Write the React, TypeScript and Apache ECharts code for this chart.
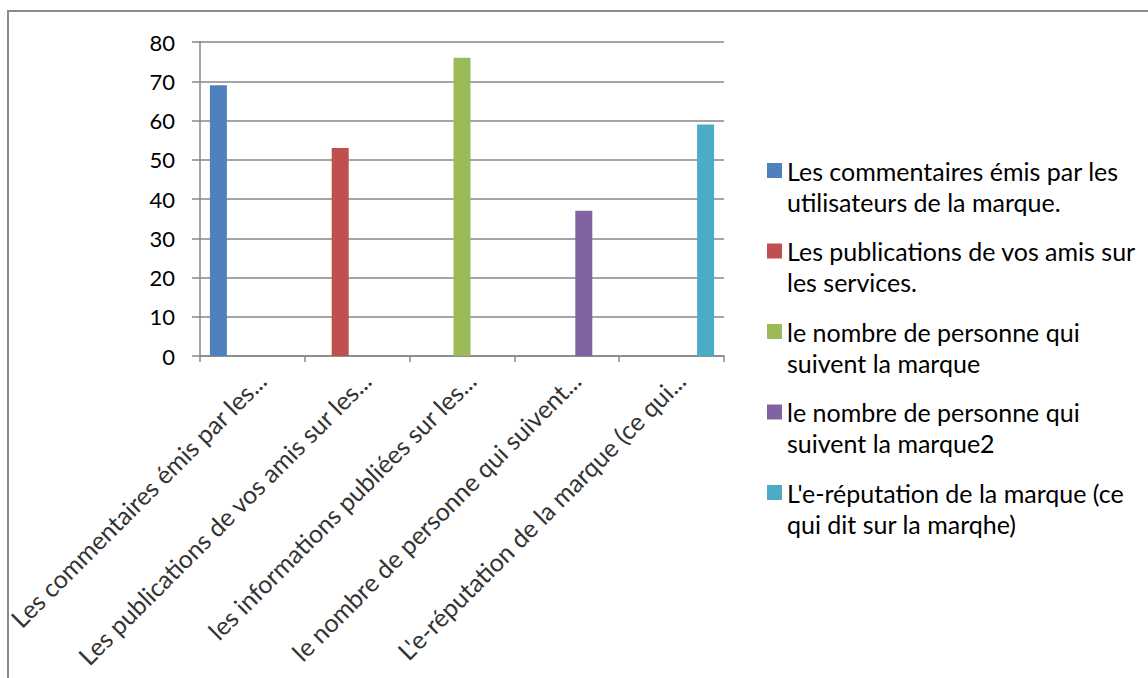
import React, { useEffect, useRef } from "react";
import * as echarts from "echarts";

const categories = [
  "Les commentaires émis par les...",
  "Les publications de vos amis sur les...",
  "les informations publiées sur les...",
  "le nombre de personne qui suivent...",
  "L'e-réputation de la marque (ce qui...",
];

const seriesNames = [
  "Les commentaires émis par les utilisateurs de la marque.",
  "Les publications de vos amis sur les services.",
  "le nombre de personne qui suivent la marque",
  "le nombre de personne qui suivent la marque2",
  "L'e-réputation de la marque (ce qui dit sur la marqhe)",
];

const legendLines = [
  ["Les commentaires émis par les", "utilisateurs de la marque."],
  ["Les publications de vos amis sur", "les services."],
  ["le nombre de personne qui", "suivent la marque"],
  ["le nombre de personne qui", "suivent la marque2"],
  ["L'e-réputation de la marque (ce", "qui dit sur la marqhe)"],
];

const seriesValues = [69, 53, 76, 37, 59];

const seriesColors = ["#4F81BD", "#C0504D", "#9BBB59", "#8064A2", "#4BACC6"];

const yTicks = { min: 0, max: 80, interval: 10 };

const FONT = "Lato";
const GRID_COLOR = "#878787";

export default function App() {
  const ref = useRef<HTMLDivElement>(null);

  useEffect(() => {
    if (!ref.current) return;
    const chart = echarts.init(ref.current, undefined, { renderer: "svg" });

    const series = seriesNames.map((name, i) => ({
      name,
      type: "bar",
      barWidth: 17,
      barGap: "0%",
      itemStyle: { color: seriesColors[i] },
      data: categories.map((_, j) => (j === i ? seriesValues[i] : null)),
    }));

    chart.setOption({
      animation: false,
      backgroundColor: "#ffffff",
      textStyle: { fontFamily: FONT },
      graphic: [
        {
          type: "rect",
          shape: { x: 8, y: 11, width: 1300, height: 800 },
          style: { fill: "none", stroke: "#8a8a8a", lineWidth: 2 },
          silent: true,
          z: -1,
        },
      ],
      grid: {
        left: 200,
        top: 42,
        width: 524,
        height: 314,
        containLabel: false,
        outerBoundsMode: "none",
      },
      legend: {
        orient: "vertical",
        left: 767,
        top: 124,
        padding: 0,
        itemWidth: 15,
        itemHeight: 15,
        itemGap: -12.5,
        icon: "rect",
        data: seriesNames,
        formatter: (name: string) => {
          const idx = seriesNames.indexOf(name);
          return " \n" + legendLines[idx].join("\n");
        },
        textStyle: {
          fontFamily: FONT,
          fontSize: 25,
          lineHeight: 31,
          color: "#000",
        },
      },
      xAxis: {
        type: "category",
        data: categories,
        axisLine: { show: true, lineStyle: { color: GRID_COLOR, width: 1.5 } },
        axisTick: { show: true, length: 6, lineStyle: { color: GRID_COLOR, width: 1.5 } },
        axisLabel: {
          rotate: 45,
          interval: 0,
          margin: 11,
          fontFamily: FONT,
          fontSize: 25,
          lineHeight: 25.4,
          color: "#333",
          // leading blank line nudges the rotated text right/down like Excel's placement
          formatter: (v: string) => " \n" + v,
        },
      },
      yAxis: {
        type: "value",
        min: yTicks.min,
        max: yTicks.max,
        interval: yTicks.interval,
        axisLine: { show: true, lineStyle: { color: GRID_COLOR, width: 1.5 } },
        axisTick: { show: true, length: 8, lineStyle: { color: GRID_COLOR, width: 1.5 } },
        splitLine: { show: true, lineStyle: { color: GRID_COLOR, width: 1.5 } },
        axisLabel: {
          margin: 25,
          fontFamily: FONT,
          fontSize: 22,
          color: "#000",
        },
      },
      series,
    });

    return () => chart.dispose();
  }, []);

  return (
    <div
      ref={ref}
      style={{ position: "fixed", left: 0, top: 0, width: 1148, height: 678, background: "#fff" }}
    />
  );
}
